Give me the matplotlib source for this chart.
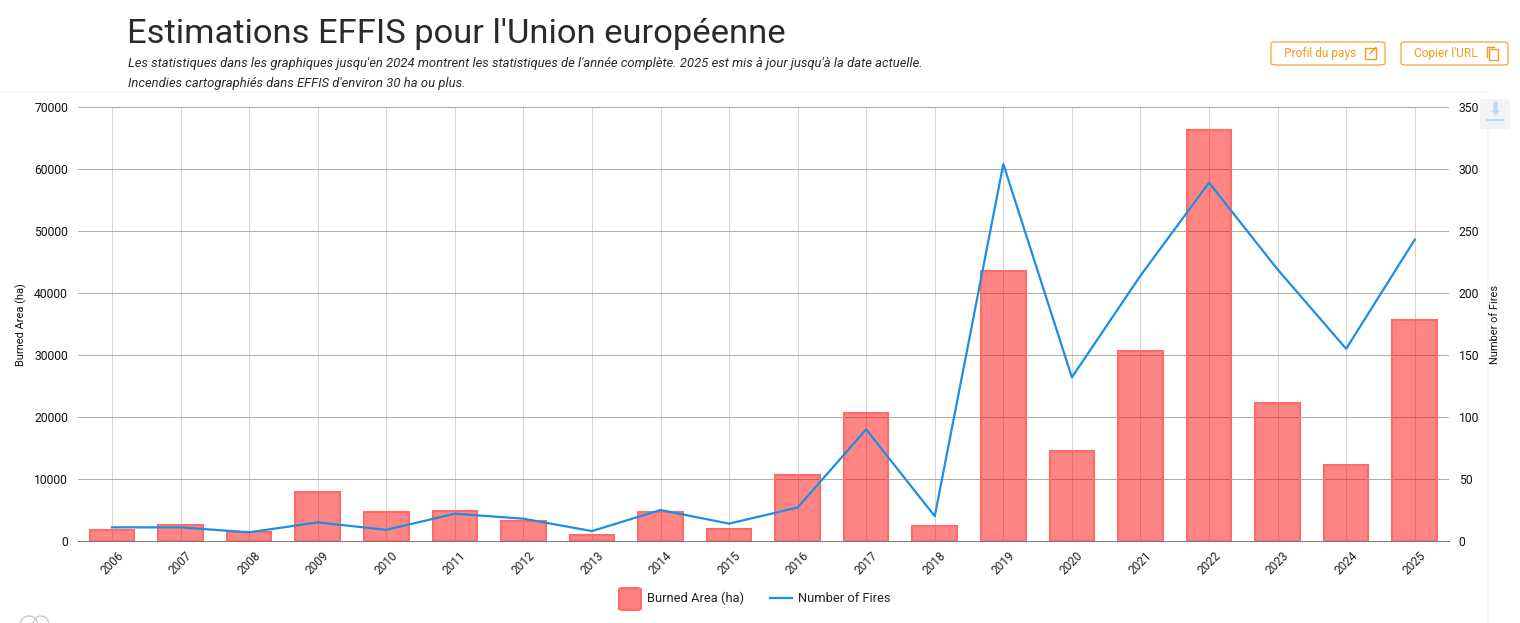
import matplotlib
matplotlib.use('Agg')
import matplotlib.pyplot as plt
from matplotlib.patches import FancyBboxPatch, Rectangle, Arc
from matplotlib.lines import Line2D
from matplotlib.transforms import ScaledTranslation

years = list(range(2006, 2026))
burned_area = [1700, 2600, 1500, 7900, 4600, 4800, 3200, 900, 4600, 2000,
               10700, 20600, 2500, 43600, 14500, 30600, 66300, 22300, 12200, 35600]
fires = [11, 11, 7, 15, 9, 22, 18, 8, 25, 14, 27, 90, 20, 304, 132, 214, 289, 219, 155, 243]
left_ticks = list(range(0, 70001, 10000))
right_ticks = list(range(0, 351, 50))

plt.rcParams['font.family'] = ['Roboto', 'DejaVu Sans']
W, H = 1520, 623
fig = plt.figure(figsize=(W/100, H/100), dpi=100, facecolor='white')

def fx(x): return x / W
def fy(y): return 1 - y / H

# card
fig.patches.append(FancyBboxPatch((fx(-6), fy(640)), 1494/W, 548/H, boxstyle='round,pad=0,rounding_size=0.003',
                                  transform=fig.transFigure, fc='white', ec='#f5f5f5', lw=1, zorder=-5))

ax = fig.add_axes([fx(77.7), fy(541), (1449-77.7)/W, (541-107)/H])
ax.set_xlim(2005.5, 2025.5)
ax.set_ylim(0, 70000)
ax.set_facecolor('none')
ax.bar(years, burned_area, width=0.65, color='#ff0000', alpha=0.48, zorder=3)
ax.bar(years, burned_area, width=0.65, fc='none', ec='#ff6b66', lw=1.5, zorder=3)
ax.grid(axis='y', color='#a0a0a0', lw=0.6, zorder=0)
ax.grid(axis='x', color='#cccccc', lw=0.6, zorder=0)
ax.set_axisbelow(True)
for s in ['top', 'left', 'right']:
    ax.spines[s].set_visible(False)
ax.spines['bottom'].set_color('#777777')
ax.spines['bottom'].set_linewidth(0.7)
ax.set_xticks(years)
ax.set_xticklabels([str(y) for y in years], rotation=45, fontsize=8.6, color='#222222')
shift = ScaledTranslation(-2/100, 0, fig.dpi_scale_trans)
for t in ax.get_xticklabels():
    t.set_transform(t.get_transform() + shift)
ax.set_yticks(left_ticks)
ax.set_yticklabels([str(v) for v in left_ticks], fontsize=8.7, color='#111111')
ax.tick_params(axis='both', length=0)
ax.tick_params(axis='x', pad=6)
ax.tick_params(axis='y', pad=7)
fig.text(fx(21), fy(324.5), 'Burned Area (ha)', rotation=90, fontsize=7.9, ha='center', va='center', color='#111111')

ax2 = ax.twinx()
ax2.set_ylim(0, 350)
ax2.plot(years, fires, color='#1a8fe3', lw=1.6, zorder=5)
for s in ax2.spines.values():
    s.set_visible(False)
ax2.set_yticks(right_ticks)
ax2.set_yticklabels([str(v) for v in right_ticks], fontsize=8.7, color='#111111')
ax2.tick_params(axis='y', length=0, pad=7)
fig.text(fx(1495), fy(324), 'Number of Fires', rotation=90, fontsize=7.9, ha='center', va='center', color='#111111')

# headings
fig.text(fx(127), fy(33.5), "Estimations EFFIS pour l'Union européenne", fontsize=24.8, color='#2a2a2a', ha='left', va='center')
fig.text(fx(128), fy(63), "Les statistiques dans les graphiques jusqu'en 2024 montrent les statistiques de l'année complète. 2025 est mis à jour jusqu'à la date actuelle.",
         fontsize=9.38, style='italic', color='#2a2a2a', ha='left', va='center')
fig.text(fx(128), fy(83), "Incendies cartographiés dans EFFIS d'environ 30 ha ou plus.",
         fontsize=9.38, style='italic', color='#2a2a2a', ha='left', va='center')

# buttons
orange = '#f39c1f'
for x0, x1, label, lx in [(1271, 1385, 'Profil du pays', 1284), (1401, 1508, "Copier l'URL", 1414)]:
    fig.patches.append(FancyBboxPatch((fx(x0), fy(65)), (x1-x0)/W, 23/H,
                       boxstyle='round,pad=0,rounding_size=0.003', transform=fig.transFigure,
                       fc='white', ec=orange, lw=0.8))
    fig.text(fx(lx), fy(53.5), label, fontsize=8.6, color=orange, ha='left', va='center')
fig.patches.append(Rectangle((fx(1365), fy(58.5)), 11/W, 11/H, transform=fig.transFigure, fc='none', ec=orange, lw=1))
fig.add_artist(Line2D([fx(1370), fx(1376)], [fy(53.5), fy(47.5)], color=orange, lw=1))
fig.add_artist(Line2D([fx(1487), fx(1487), fx(1494)], [fy(57), fy(46.5), fy(46.5)], color=orange, lw=1))
fig.patches.append(Rectangle((fx(1489), fy(60)), 9/W, 11/H, transform=fig.transFigure, fc='white', ec=orange, lw=1, zorder=3))

# download button
fig.patches.append(FancyBboxPatch((fx(1480), fy(129)), 30/W, 30/H, boxstyle='round,pad=0,rounding_size=0.002',
                   transform=fig.transFigure, fc='#f2f3f5', ec='none', zorder=6))
fig.text(fx(1495), fy(110), '\u2b07', fontsize=13, color='#bcd9f2', ha='center', va='center', zorder=7,
         family=['DejaVu Sans'])
fig.add_artist(Line2D([fx(1487), fx(1503)], [fy(120), fy(120)], color='#bcd9f2', lw=1.5, zorder=7))

# legend
fig.patches.append(FancyBboxPatch((fx(619), fy(610)), 22/W, 22/H, boxstyle='round,pad=0,rounding_size=0.003',
                   transform=fig.transFigure, fc='#ff8080', ec='#ff6b66', lw=1.5))
fig.text(fx(647), fy(598), 'Burned Area (ha)', fontsize=9.3, color='#222222', ha='left', va='center')
fig.add_artist(Line2D([fx(770), fx(792)], [fy(598), fy(598)], color='#1a8fe3', lw=1.6))
fig.text(fx(798), fy(598), 'Number of Fires', fontsize=9.3, color='#222222', ha='left', va='center')

# cropped logo at bottom left
for cx, w in [(29, 18), (41, 16)]:
    fig.add_artist(Arc((fx(cx), fy(625)), w/W, 18/H, theta1=0, theta2=180, color='#c8c8c8', lw=1, transform=fig.transFigure))

fig.savefig('out.png', dpi=100)
